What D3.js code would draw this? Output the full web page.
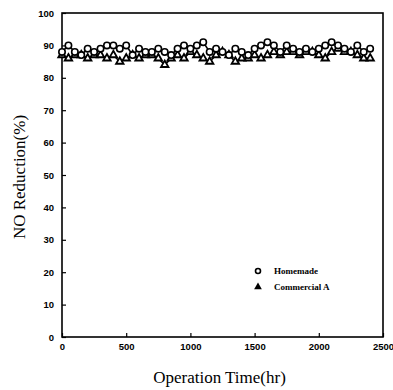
<!DOCTYPE html>
<html>
<head>
<meta charset="utf-8">
<script src="https://cdn.jsdelivr.net/npm/d3@7"></script>
<style>
  body { margin: 0; background: #fff; }
  svg { display: block; }
</style>
</head>
<body>
<div id="chart"></div>
<script>
// operation time (hr)
const times = d3.range(0, 2401, 50);
// NO reduction (%)
const homemade = [88, 90, 88, 87, 89, 88, 89, 90, 90, 89, 90, 87, 89, 88, 88, 89, 88, 87, 89, 90,
  89, 90, 91, 88, 89, 88, 87, 89, 88, 87, 89, 90, 91, 90, 88, 90, 89, 88, 89, 88,
  89, 90, 91, 90, 89, 88, 90, 88, 89];
const commercialA = [87, 86, 87, 87, 86, 87, 87, 86, 87, 85, 86, 87, 86, 87, 87, 86, 84, 86, 87, 86,
  88, 87, 86, 85, 87, 88, 87, 85, 86, 86, 87, 86, 87, 88, 87, 88, 88, 87, 88, 88,
  87, 86, 88, 89, 88, 88, 87, 86, 86];
const xTicks = [0, 500, 1000, 1500, 2000, 2500];
const yTicks = [0, 10, 20, 30, 40, 50, 60, 70, 80, 90, 100];
const seriesNames = ['Homemade', 'Commercial A'];

const width = 393, height = 390;
const margin = { top: 13, right: 10, bottom: 53, left: 62 };
const w = width - margin.left - margin.right;
const h = height - margin.top - margin.bottom;

const svg = d3.select('#chart').append('svg')
  .attr('width', width)
  .attr('height', height);

const g = svg.append('g')
  .attr('transform', `translate(${margin.left},${margin.top})`);

const x = d3.scaleLinear().domain([0, 2500]).range([0, w]);
const y = d3.scaleLinear().domain([0, 100]).range([h, 0]);

// frame
g.append('rect')
  .attr('width', w).attr('height', h)
  .attr('fill', 'none').attr('stroke', '#000').attr('stroke-width', 1.6);

// x axis, ticks inward
const xAxis = g.append('g')
  .attr('transform', `translate(0,${h})`)
  .call(d3.axisBottom(x).tickValues(xTicks).tickSize(-4).tickPadding(6).tickFormat(d3.format('d')));
// y axis
const yAxis = g.append('g')
  .call(d3.axisLeft(y).tickValues(yTicks).tickSize(-4).tickPadding(8));

[xAxis, yAxis].forEach(a => {
  a.select('.domain').remove();
  a.selectAll('line').attr('stroke', '#000').attr('stroke-width', 1.2);
  a.selectAll('text')
    .attr('fill', '#000')
    .style('font-family', '"Liberation Sans", Arial, sans-serif')
    .style('font-weight', 'bold')
    .style('font-size', '9.5px');
});

// titles
svg.append('text')
  .attr('x', margin.left + w / 2 - 3)
  .attr('y', 383)
  .attr('text-anchor', 'middle')
  .style('font-family', '"Liberation Serif", "Times New Roman", serif')
  .style('font-size', '17px')
  .text('Operation Time(hr)');

svg.append('text')
  .attr('transform', `translate(25,${margin.top + h / 2 + 2}) rotate(-90)`)
  .attr('text-anchor', 'middle')
  .style('font-family', '"Liberation Serif", "Times New Roman", serif')
  .style('font-size', '17px')
  .text('NO Reduction(%)');

const line = d3.line().x(d => x(d[0])).y(d => y(d[1]));
const triSym = d3.symbol().type(d3.symbolTriangle).size(24);

const dataH = times.map((t, i) => [t, homemade[i]]);
const dataC = times.map((t, i) => [t, commercialA[i]]);

g.append('path').datum(dataC).attr('d', line)
  .attr('fill', 'none').attr('stroke', '#000').attr('stroke-width', 1.6);
g.append('path').datum(dataH).attr('d', line)
  .attr('fill', 'none').attr('stroke', '#000').attr('stroke-width', 1.6);

g.selectAll('.tri').data(dataC).enter().append('path')
  .attr('class', 'tri')
  .attr('transform', d => `translate(${x(d[0])},${y(d[1])})`)
  .attr('d', triSym)
  .attr('fill', '#fff').attr('stroke', '#000').attr('stroke-width', 1.8);

g.selectAll('.circ').data(dataH).enter().append('circle')
  .attr('class', 'circ')
  .attr('cx', d => x(d[0])).attr('cy', d => y(d[1]))
  .attr('r', 3.2)
  .attr('fill', '#fff').attr('stroke', '#000').attr('stroke-width', 1.6);

// legend
const leg = svg.append('g').attr('transform', 'translate(258,271)');
leg.append('circle').attr('cx', 0).attr('cy', 0).attr('r', 2.5)
  .attr('fill', '#fff').attr('stroke', '#000').attr('stroke-width', 1.6);
leg.append('path').attr('transform', 'translate(0,16)')
  .attr('d', d3.symbol().type(d3.symbolTriangle).size(26)).attr('fill', '#000');
leg.selectAll('text').data(seriesNames).enter().append('text')
  .attr('x', 16).attr('y', (d, i) => i * 16 + 3)
  .style('font-family', '"Liberation Serif", "Times New Roman", serif')
  .style('font-weight', 'bold')
  .style('font-size', '9px')
  .text(d => d);
</script>
</body>
</html>
